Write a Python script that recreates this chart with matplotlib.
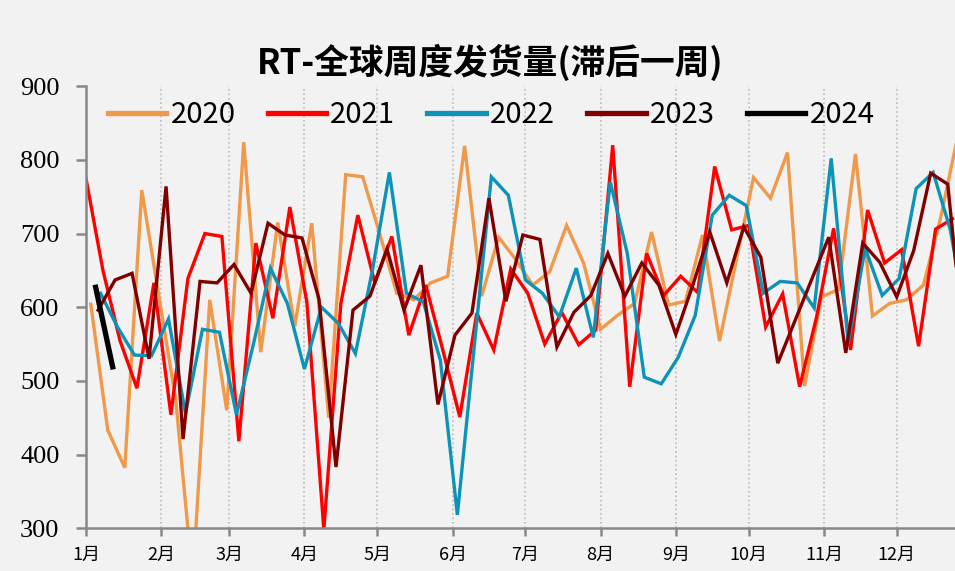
import matplotlib.pyplot as plt
import numpy as np
import pandas as pd

years = ["2020", "2021", "2022", "2023", "2024"]
colors = ["#F0994A", "#FF0000", "#0E93B8", "#800000", "#000000"]

v2020 = [604, 433, 382, 759, 616, 474, 230, 610, 460, 824, 539, 715, 574, 714, 450,
         780, 777, 700, 619, 610, 633, 642, 819, 615, 695, 665, 630, 648, 711, 660,
         570, 589, 605, 702, 603, 608, 698, 554, 665, 776, 748, 810, 493, 614, 624,
         808, 588, 605, 610, 630, 720, 830]
v2021 = [775, 650, 555, 490, 633, 454, 639, 700, 696, 418, 687, 585, 736, 607, 298,
         605, 725, 633, 696, 562, 630, 542, 451, 592, 542, 652, 619, 550, 593, 549,
         569, 820, 492, 673, 616, 642, 620, 791, 705, 711, 573, 618, 492, 587, 707,
         542, 732, 660, 678, 547, 706, 720]
v2022 = [619, 573, 535, 534, 584, 456, 570, 566, 454, 550, 653, 605, 516, 600, 578,
         537, 650, 783, 619, 607, 528, 318, 548, 777, 752, 637, 619, 587, 653, 559,
         770, 673, 505, 496, 532, 589, 725, 752, 738, 619, 635, 633, 599, 802, 551,
         680, 616, 639, 761, 783, 706, 580]
v2023 = [596, 637, 646, 530, 764, 421, 635, 633, 658, 619, 714, 698, 694, 611, 383,
         596, 615, 679, 596, 657, 468, 562, 592, 748, 608, 698, 692, 546, 593, 616,
         673, 615, 660, 630, 563, 630, 702, 633, 709, 668, 524, 581, 638, 695, 538,
         687, 661, 614, 677, 782, 767, 540]
v2024 = [627, 519]
series = [v2020, v2021, v2022, v2023, v2024]

month_labels = [f"{m}月" for m in range(1, 13)]
month_days = [0, 31, 59, 90, 120, 151, 181, 212, 243, 273, 304, 334]

plt.rcParams['font.family'] = ['Noto Sans CJK SC', 'DejaVu Sans']

fig = plt.figure(figsize=(9.55, 5.71), dpi=100, facecolor="#F2F2F2")
ax = fig.add_axes([0.090, 0.075, 0.91, 0.774], facecolor="#F2F2F2")

for year, vals, c in zip(years, series, colors):
    y = int(year)
    fridays = pd.date_range(f"{year}-01-01", periods=len(vals), freq="W-FRI")
    days = (fridays - pd.Timestamp(y, 1, 1)).days
    lw = 3.8 if year == "2024" else 2.4
    ax.plot(days, vals, color=c, lw=lw, label=year, solid_joinstyle="miter",
            zorder=3 if year == "2024" else 2)

ax.set_xlim(0, 358)
ax.set_ylim(300, 900)
ax.set_yticks(np.arange(300, 901, 100))
ax.set_xticks(month_days)
ax.set_xticklabels(month_labels, fontsize=13)
for lab in ax.get_yticklabels():
    lab.set_fontfamily("Liberation Serif")
    lab.set_fontsize(19)

ax.grid(axis="x", color="#BBBBBB", linestyle=":", lw=1.2)
for s in ["top", "right"]:
    ax.spines[s].set_visible(False)
for s in ["left", "bottom"]:
    ax.spines[s].set_color("#888888")
    ax.spines[s].set_linewidth(1.8)
ax.tick_params(axis="both", colors="#888888", width=1.8, length=7, labelcolor="black")
ax.tick_params(axis="y", pad=12)
ax.tick_params(axis="x", length=6, pad=7)

fig.text(0.513, 0.89, "RT-全球周度发货量(滞后一周)", ha="center", va="center",
         fontsize=25, fontweight="bold")

leg = ax.legend(loc="center left", bbox_to_anchor=(-0.005, 0.935), ncol=5, frameon=False,
                fontsize=21, handlelength=2.0, handletextpad=0.15, columnspacing=1.1)
for h in leg.get_lines():
    h.set_linewidth(3.8)

fig.savefig("out.png", dpi=100, facecolor="#F2F2F2")
